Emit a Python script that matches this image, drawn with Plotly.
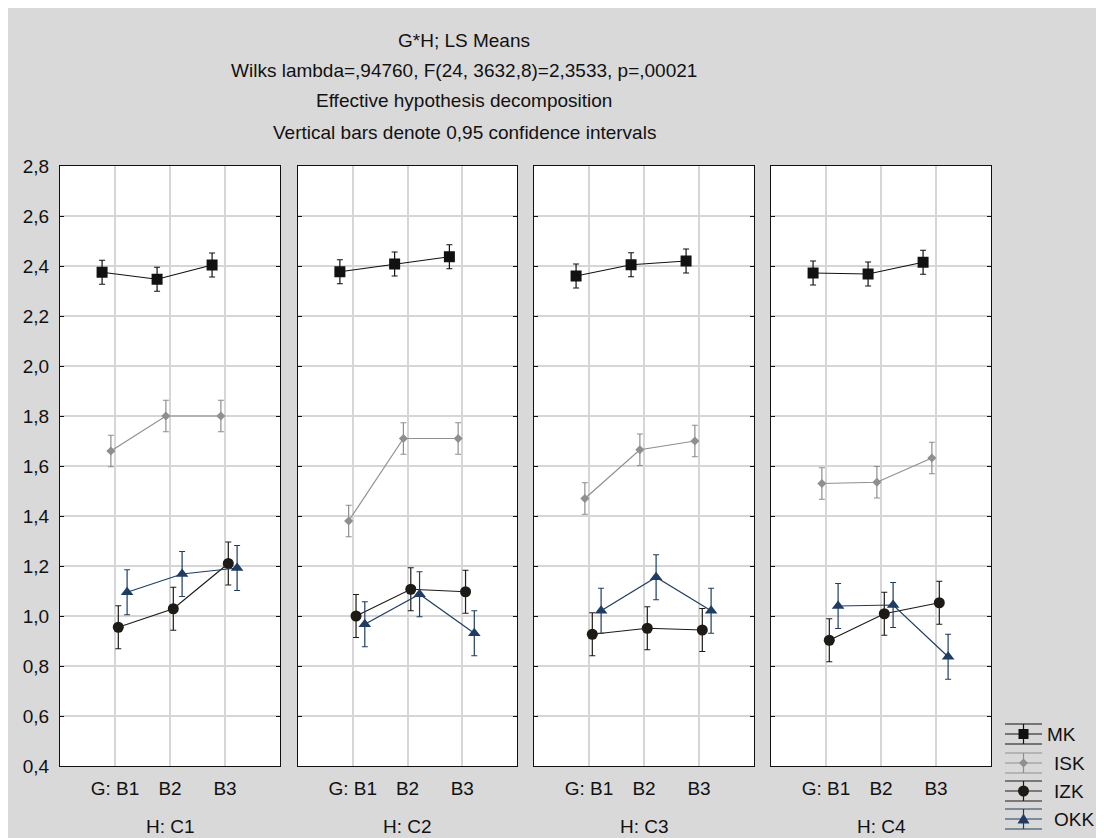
import plotly.graph_objects as go

# ---------------- data ----------------
categories = ["B1", "B2", "B3"]
tick_labels = ["G: B1", "B2", "B3"]
panel_labels = ["H: C1", "H: C2", "H: C3", "H: C4"]
series_names = ["MK", "ISK", "IZK", "OKK"]

# LS means per panel (C1..C4), each list over B1, B2, B3
mk_mean = [[2.375, 2.347, 2.404], [2.377, 2.408, 2.437], [2.360, 2.405, 2.420], [2.372, 2.368, 2.415]]
isk_mean = [[1.660, 1.800, 1.800], [1.380, 1.710, 1.710], [1.470, 1.665, 1.700], [1.530, 1.535, 1.632]]
izk_mean = [[0.955, 1.029, 1.210], [1.000, 1.107, 1.097], [0.927, 0.951, 0.944], [0.903, 1.009, 1.053]]
okk_mean = [[1.095, 1.168, 1.192], [0.967, 1.087, 0.931], [1.021, 1.155, 1.021], [1.040, 1.044, 0.837]]

# 95% CI half-widths
mk_ci = [[0.048, 0.048, 0.048], [0.048, 0.048, 0.048], [0.048, 0.048, 0.048], [0.048, 0.048, 0.048]]
isk_ci = [[0.063, 0.063, 0.063], [0.063, 0.063, 0.063], [0.063, 0.063, 0.063], [0.063, 0.063, 0.063]]
izk_ci = [[0.086, 0.086, 0.086], [0.086, 0.086, 0.086], [0.086, 0.086, 0.086], [0.086, 0.086, 0.086]]
okk_ci = [[0.090, 0.090, 0.090], [0.090, 0.090, 0.090], [0.090, 0.090, 0.090], [0.090, 0.090, 0.090]]

y_ticks = [0.4, 0.6, 0.8, 1.0, 1.2, 1.4, 1.6, 1.8, 2.0, 2.2, 2.4, 2.6, 2.8]

title_lines = [
    "G*H; LS Means",
    "Wilks lambda=,94760, F(24, 3632,8)=2,3533, p=,00021",
    "Effective hypothesis decomposition",
    "Vertical bars denote 0,95 confidence intervals",
]

# ---------------- styles ----------------
means = [mk_mean, isk_mean, izk_mean, okk_mean]
cis = [mk_ci, isk_ci, izk_ci, okk_ci]
colors = ["#111111", "#8f8f8f", "#1e1b16", "#1f3d63"]
symbols = ["square", "diamond", "circle", "triangle-up"]
msizes = [11, 7, 11, 11]
offsets = [-0.235, -0.075, 0.06, 0.22]

FONT = "Liberation Sans, Arial, sans-serif"
GRAY = "#d9d9d9"

# page-pixel geometry of the plot area (figure sits at 8px body margin)
OFF = 8
L, R, T, B = 60, 991, 166, 766
W, H = 1104 - OFF, 838 - OFF
PW, PH = R - L, B - T


def px(x):
    return (x - L) / PW


def py(y):
    return (B - y) / PH


panel_px = [(60, 280), (298, 517), (534, 754), (771, 991)]

fig = go.Figure()

for p in range(4):
    xa = "x" if p == 0 else f"x{p+1}"
    ya = "y" if p == 0 else f"y{p+1}"
    for s in range(4):
        xs = [i + 1 + offsets[s] for i in range(len(categories))]
        fig.add_trace(go.Scatter(
            x=xs, y=means[s][p], xaxis=xa, yaxis=ya,
            mode="lines+markers",
            name=series_names[s], showlegend=False,
            line=dict(color=colors[s], width=1.2),
            marker=dict(symbol=symbols[s], size=msizes[s], color=colors[s],
                        line=dict(width=0)),
            error_y=dict(type="data", array=cis[s][p], visible=True,
                         color=colors[s], thickness=1.2, width=3),
            cliponaxis=False,
        ))

layout = dict(
    width=W, height=H,
    margin=dict(l=L - OFF, r=(W + OFF) - R, t=T - OFF, b=(H + OFF) - B, pad=0),
    paper_bgcolor=GRAY, plot_bgcolor="white",
    separators=", ",
    font=dict(family=FONT, size=19, color="#111111"),
    showlegend=False,
)

for p in range(4):
    sx = "xaxis" if p == 0 else f"xaxis{p+1}"
    sy = "yaxis" if p == 0 else f"yaxis{p+1}"
    a, b = panel_px[p]
    layout[sx] = dict(
        domain=[px(a), px(b)], range=[0, 4],
        anchor="y" if p == 0 else f"y{p+1}",
        tickmode="array", tickvals=[1, 2, 3], ticktext=tick_labels,
        showgrid=True, gridcolor="#d6d6d6", gridwidth=1.5,
        showline=True, linecolor="#111111", linewidth=1.2, mirror=True,
        ticks="", zeroline=False, ticklabelstandoff=5,
        tickfont=dict(family=FONT, size=19, color="#111111"),
    )
    layout[sy] = dict(
        domain=[0, 1], range=[0.4, 2.8],
        anchor="x" if p == 0 else f"x{p+1}",
        tickmode="array", tickvals=y_ticks, tickformat=".1f",
        showticklabels=(p == 0),
        showgrid=True, gridcolor="#d6d6d6", gridwidth=1.5,
        showline=True, linecolor="#111111", linewidth=1.2, mirror="ticks",
        ticks="inside", ticklen=4, tickcolor="#111111", tickwidth=1.2,
        zeroline=False, ticklabelstandoff=6,
        tickfont=dict(family=FONT, size=19, color="#111111"),
    )

fig.update_layout(**layout)

annotations = []
title_y = [40, 71, 101, 132]
for txt, yy in zip(title_lines, title_y):
    annotations.append(dict(
        text=txt, x=px(464), y=py(yy), xref="paper", yref="paper",
        xanchor="center", yanchor="middle", showarrow=False,
        font=dict(family=FONT, size=19, color="#111111")))

for p in range(4):
    a, b = panel_px[p]
    annotations.append(dict(
        text=panel_labels[p], x=px((a + b) / 2), y=py(826), xref="paper", yref="paper",
        xanchor="center", yanchor="middle", showarrow=False,
        font=dict(family=FONT, size=19, color="#111111")))

# ---------- custom legend (symbol with error bar) ----------
shapes = []
leg_y = [734, 763, 791, 819]
leg_x0, leg_x1 = 1005, 1042
leg_cx = (leg_x0 + leg_x1) / 2
leg_text_x = [1045, 1052, 1052, 1052]
for s in range(4):
    yc = leg_y[s]
    c = colors[s]
    for dy in (-10, 0, 10):
        shapes.append(dict(type="line", xref="paper", yref="paper",
                           x0=px(leg_x0), x1=px(leg_x1), y0=py(yc + dy), y1=py(yc + dy),
                           line=dict(color=c, width=1.2)))
    shapes.append(dict(type="line", xref="paper", yref="paper",
                       x0=px(leg_cx), x1=px(leg_cx), y0=py(yc - 10), y1=py(yc + 10),
                       line=dict(color=c, width=1.2)))
    if symbols[s] == "square":
        shapes.append(dict(type="rect", xref="paper", yref="paper",
                           x0=px(leg_cx - 5), x1=px(leg_cx + 5), y0=py(yc - 5), y1=py(yc + 5),
                           fillcolor=c, line=dict(width=0)))
    elif symbols[s] == "circle":
        shapes.append(dict(type="circle", xref="paper", yref="paper",
                           x0=px(leg_cx - 5.5), x1=px(leg_cx + 5.5), y0=py(yc - 5.5), y1=py(yc + 5.5),
                           fillcolor=c, line=dict(width=0)))
    elif symbols[s] == "diamond":
        path = (f"M {px(leg_cx)},{py(yc-4.5)} L {px(leg_cx+4.5)},{py(yc)} "
                f"L {px(leg_cx)},{py(yc+4.5)} L {px(leg_cx-4.5)},{py(yc)} Z")
        shapes.append(dict(type="path", xref="paper", yref="paper", path=path,
                           fillcolor=c, line=dict(width=0)))
    else:
        path = (f"M {px(leg_cx)},{py(yc-5.5)} L {px(leg_cx+6)},{py(yc+4.5)} "
                f"L {px(leg_cx-6)},{py(yc+4.5)} Z")
        shapes.append(dict(type="path", xref="paper", yref="paper", path=path,
                           fillcolor=c, line=dict(width=0)))
    annotations.append(dict(
        text=series_names[s], x=px(leg_text_x[s]), y=py(yc), xref="paper", yref="paper",
        xanchor="left", yanchor="middle", showarrow=False,
        font=dict(family=FONT, size=19, color="#111111")))

fig.update_layout(annotations=annotations, shapes=shapes)

fig.write_html("out.html")
